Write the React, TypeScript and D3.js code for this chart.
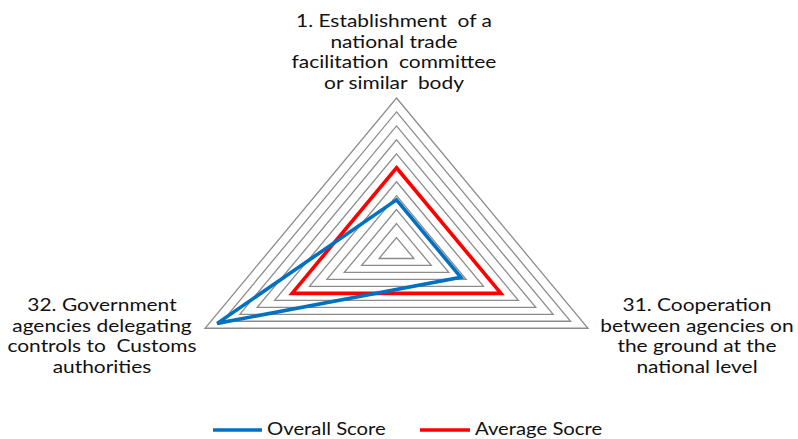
import React from "react";
import * as d3 from "d3";

// Indicator names (one entry per radar axis, split into display lines)
const axisLabels: string[][] = [
  ["1. Establishment  of a", "national trade", "facilitation  committee", "or similar  body"],
  ["31. Cooperation", "between agencies on", "the ground at the", "national level"],
  ["32. Government", "agencies delegating", "controls to  Customs", "authorities"],
];

// Series values, same order as the axes
const overallScore: number[] = [3.7, 3.7, 10.3];
const averageScore: number[] = [6, 6, 6];

const seriesNames: string[] = ["Overall Score", "Average Socre"];
const seriesColors: string[] = ["#0070C0", "#FF0000"];

// Radial scale: gridline levels
const scaleMax = 11;
const gridLevels: number[] = d3.range(1, scaleMax + 1);

const W = 798;
const H = 439;
const FONT = "Lato, 'Open Sans', sans-serif";
// Text is drawn slightly widened horizontally
const TEXT_SX = 1.23;

export default function App() {
  const cx = 396.5;
  const cy = 251.5;
  // Horizontal and vertical extents of the radar differ (stretched layout)
  const rX = d3.scaleLinear().domain([0, scaleMax]).range([0, 221.1]);
  const rY = d3.scaleLinear().domain([0, scaleMax]).range([0, 153.5]);
  const n = axisLabels.length;
  const angle = (i: number) => (i * 2 * Math.PI) / n;

  const pt = (i: number, v: number): [number, number] => [
    cx + rX(v) * Math.sin(angle(i)),
    cy - rY(v) * Math.cos(angle(i)),
  ];

  const closed = d3.line<[number, number]>().curve(d3.curveLinearClosed);

  const polygon = (vals: number[]) => closed(vals.map((v, i) => pt(i, v))) || "";

  // Label anchors: [centerX, first baseline]
  const labelPos: [number, number][] = [
    [394, 27],
    [697, 311],
    [102, 311],
  ];
  const lineGap = 20.7;

  const legendItems = [
    { name: seriesNames[0], color: seriesColors[0], x1: 213, x2: 262, tx: 267 },
    { name: seriesNames[1], color: seriesColors[1], x1: 420, x2: 470, tx: 475 },
  ];

  const widen = (x0: number) => `translate(${x0},0) scale(${TEXT_SX},1) translate(${-x0},0)`;

  return (
    <svg
      width={W}
      height={H}
      style={{ position: "absolute", left: 0, top: 0, background: "#fff" }}
      fontFamily={FONT}
    >
      <rect width={W} height={H} fill="#fff" />
      {gridLevels.map((lv) => (
        <path
          key={lv}
          d={closed(d3.range(n).map((i) => pt(i, lv))) || ""}
          fill="none"
          stroke="#8C8C8C"
          strokeWidth={1.3}
        />
      ))}
      <path d={polygon(averageScore)} fill="none" stroke={seriesColors[1]} strokeWidth={3.6} strokeLinejoin="miter" />
      <path d={polygon(overallScore)} fill="none" stroke={seriesColors[0]} strokeWidth={3.6} strokeLinejoin="miter" />

      {axisLabels.map((lines, i) => (
        <text
          key={i}
          textAnchor="middle"
          fontSize={17}
          fill="#111"
          transform={widen(labelPos[i][0])}
        >
          {lines.map((ln, j) => (
            <tspan key={j} x={labelPos[i][0]} y={labelPos[i][1] + j * lineGap} style={{ whiteSpace: "pre" }}>
              {ln}
            </tspan>
          ))}
        </text>
      ))}

      {legendItems.map((it) => (
        <g key={it.name}>
          <line x1={it.x1} x2={it.x2} y1={430} y2={430} stroke={it.color} strokeWidth={3.5} />
          <text x={it.tx} y={435} fontSize={16.5} fill="#111" transform={widen(it.tx)}>
            {it.name}
          </text>
        </g>
      ))}
    </svg>
  );
}
